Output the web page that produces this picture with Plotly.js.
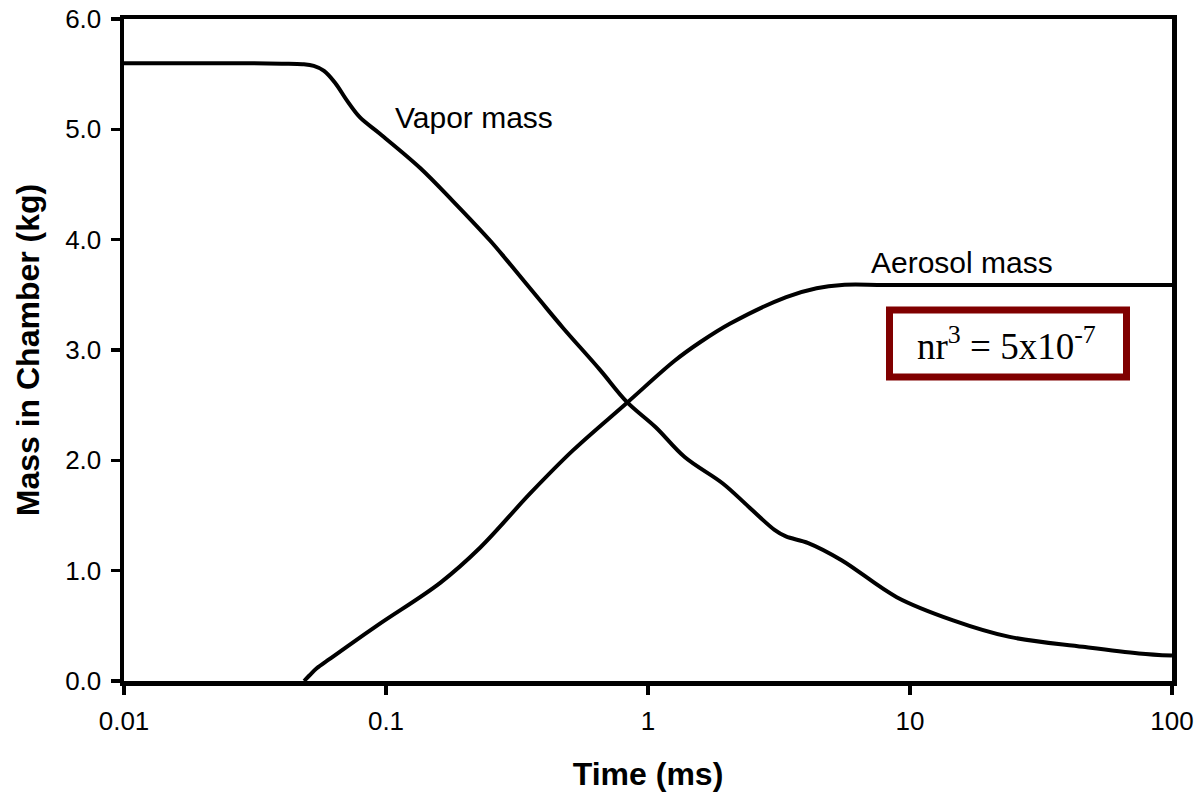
<!DOCTYPE html>
<html>
<head>
<meta charset="utf-8">
<script src="https://cdn.plot.ly/plotly-3.0.1.min.js"></script>
<style>html,body{margin:0;padding:0;background:#fff;}#chart{width:1199px;height:793px;}</style>
</head>
<body>
<div id="chart"></div>
<script>
// Time (ms) and mass (kg)
const vaporTime = [0.01, 0.02, 0.03, 0.04, 0.048, 0.053, 0.058, 0.064, 0.071, 0.0794, 0.0948, 0.135, 0.18, 0.25, 0.29, 0.387, 0.474, 0.656, 0.83, 1.07, 1.38, 1.93, 2.42, 3.04, 3.36, 4.09, 5.48, 8.9, 14.6, 24, 45.7, 74.8, 100];
const vaporMass = [5.6, 5.6, 5.6, 5.595, 5.59, 5.575, 5.53, 5.42, 5.26, 5.11, 4.96, 4.65, 4.35, 3.99, 3.81, 3.45, 3.20, 2.82, 2.53, 2.30, 2.03, 1.79, 1.58, 1.37, 1.31, 1.25, 1.095, 0.76, 0.55, 0.40, 0.31, 0.25, 0.23];

const aerosolTime = [0.0487, 0.051, 0.0544, 0.061, 0.0708, 0.0948, 0.161, 0.229, 0.355, 0.517, 0.83, 1.26, 1.58, 2.06, 3.37, 4.4, 5.5, 8, 20, 100];
const aerosolMass = [0.0, 0.05, 0.115, 0.20, 0.31, 0.52, 0.89, 1.21, 1.70, 2.09, 2.52, 2.90, 3.07, 3.24, 3.48, 3.56, 3.59, 3.59, 3.59, 3.59];

const xTickVals = [0.01, 0.1, 1, 10, 100];
const xTickText = ['0.01', '0.1', '1', '10', '100'];
const yTickVals = [0, 1, 2, 3, 4, 5, 6];

const labelVapor = 'Vapor mass';
const labelAerosol = 'Aerosol mass';
const boxText = 'nr<sup>3</sup> = 5x10<sup>-7</sup>';

const lineStyle = {color: '#000', width: 4, shape: 'spline', smoothing: 1.0};

const traces = [
  {x: vaporTime, y: vaporMass, mode: 'lines', line: lineStyle, name: labelVapor, hoverinfo: 'skip'},
  {x: aerosolTime, y: aerosolMass, mode: 'lines', line: lineStyle, name: labelAerosol, hoverinfo: 'skip'}
];

const axisCommon = {
  showline: true, linecolor: '#000', linewidth: 4.5, mirror: true,
  ticks: 'outside', ticklen: 9, tickwidth: 3.5, tickcolor: '#000',
  ticklabelstandoff: 4,
  showgrid: false, zeroline: false,
  tickfont: {family: 'Arial, Liberation Sans, sans-serif', size: 26, color: '#000'}
};

const layout = {
  width: 1199, height: 793,
  margin: {l: 124, r: 27, t: 19, b: 112},
  paper_bgcolor: '#fff', plot_bgcolor: '#fff',
  showlegend: false,
  xaxis: Object.assign({}, axisCommon, {
    type: 'log', range: [-2, 2],
    tickvals: xTickVals, ticktext: xTickText,
    title: {text: '<b>Time (ms)</b>', standoff: 29, font: {family: 'Arial, Liberation Sans, sans-serif', size: 32, color: '#000'}}
  }),
  yaxis: Object.assign({}, axisCommon, {
    range: [0, 6], tickvals: yTickVals, tickformat: '.1f',
    title: {text: '<b>Mass in Chamber (kg)</b>', standoff: 17, font: {family: 'Arial, Liberation Sans, sans-serif', size: 32, color: '#000'}}
  }),
  annotations: [
    {xref: 'paper', yref: 'paper', x: (393 - 124) / 1048, y: (681 - 117) / 663, xanchor: 'left', yanchor: 'middle',
     text: labelVapor, showarrow: false, font: {family: 'Arial, Liberation Sans, sans-serif', size: 30, color: '#000'}},
    {xref: 'paper', yref: 'paper', x: (869 - 124) / 1048, y: (681 - 262) / 663, xanchor: 'left', yanchor: 'middle',
     text: labelAerosol, showarrow: false, font: {family: 'Arial, Liberation Sans, sans-serif', size: 30, color: '#000'}},
    {xref: 'paper', yref: 'paper', x: (1006 - 124) / 1048, y: (681 - 343) / 663, xanchor: 'center', yanchor: 'middle',
     text: boxText, showarrow: false, font: {family: 'Liberation Serif, Times New Roman, serif', size: 37, color: '#000'}}
  ],
  shapes: [
    {type: 'rect', xref: 'paper', yref: 'paper',
     x0: (889.5 - 124) / 1048, x1: (1126.5 - 124) / 1048,
     y0: (681 - 376.5) / 663, y1: (681 - 309.5) / 663,
     line: {color: '#800000', width: 7}, fillcolor: 'rgba(0,0,0,0)'}
  ]
};

Plotly.newPlot('chart', traces, layout, {displayModeBar: false, staticPlot: true});
</script>
</body>
</html>
